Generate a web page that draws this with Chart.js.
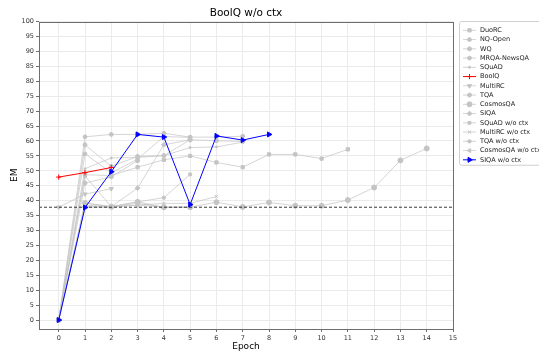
<!DOCTYPE html>
<html>
<head>
<meta charset="utf-8">
<script src="https://cdn.jsdelivr.net/npm/chart.js@4.4.0/dist/chart.umd.min.js"></script>
<style>
  html, body { margin: 0; padding: 0; background: #fff; }
  #wrap { width: 539px; height: 359px; }
</style>
</head>
<body>
<div id="wrap"><canvas id="chart" width="539" height="359"></canvas></div>
<script>
// axis ticks
const xTicks = [0, 1, 2, 3, 4, 5, 6, 7, 8, 9, 10, 11, 12, 13, 14, 15];
const yTicks = [0, 5, 10, 15, 20, 25, 30, 35, 40, 45, 50, 55, 60, 65, 70, 75, 80, 85, 90, 95, 100];
const xMin = -0.75, xMax = 15;
const yMin = -3, yMax = 100;
const baseline = 37.8;

// EM per epoch (index = epoch)
const duoRC = [0, 48.7, 48.4, 51.2, 53.7, 55.0, 52.8, 51.2, 55.5, 55.5, 54.1, 57.2];
const nqOpen = [0, 61.4, 62.2, 62.2, 62.6, 61.3, 61.3, 61.6];
const wq = [0, 58.7, 51.5, 54.8, 55.1, 60.4, 60.1, 59.8];
const mrqaNewsQA = [0, 55.7, 49.3, 53.9, 61.5, 61.2];
const squad = [0, 50.7, 54.3, 54.5, 55.1, 57.8, 58.0, 59.6];
const boolq = [47.9, 49.4, 51.1];
const multiRC = [37.8, 42.2, 44.0];
const tqa = [0, 45.9, 48.0, 53.4];
const cosmosQA = [0, 39.2, 38.0, 39.6, 37.8, 37.8, 39.5, 37.9, 39.4, 38.3, 38.3, 40.2, 44.4, 53.5, 57.5];
const siqa = [0, 38.0, 38.0, 44.2, 58.7, 60.4];
const squadNoCtx = [0, 48.3, 38.0, 39.1, 37.8, 37.8];
const multiRCNoCtx = [0, 38.5, 38.0, 38.5, 39.1, 39.1, 41.4];
const tqaNoCtx = [0, 39.2, 38.0, 39.6, 41.0, 48.8];
const cosmosQANoCtx = [0, 37.8, 37.8, 38.5, 37.8, 37.8];
const siqaNoCtx = [0, 37.7, 49.7, 62.2, 61.3, 38.7, 61.7, 60.3, 62.2];

const GRAY_LINE = "rgba(195,195,195,0.7)";
const GRAY_MARK = "#c4c4c4";
const FONT = "'DejaVu Sans', sans-serif";

function pts(arr) {
    return arr.map((v, i) => ({ x: i, y: v }));
}

function series(label, arr, style, opts) {
    const o = opts || {};
    return {
        label,
        data: pts(arr),
        borderColor: o.color || GRAY_LINE,
        backgroundColor: o.mark || GRAY_MARK,
        pointBackgroundColor: o.mark || GRAY_MARK,
        pointBorderColor: o.mark || GRAY_MARK,
        borderWidth: o.width || 1,
        pointStyle: style,
        pointRadius: o.radius || 2,
        pointRotation: o.rotation || 0,
        pointBorderWidth: o.pbw || 1,
        pointHoverRadius: 0,
        tension: 0,
        order: o.order != null ? o.order : 5,
    };
}

const datasets = [
    series("DuoRC", duoRC, "rect", { radius: 2.3 }),
    series("NQ-Open", nqOpen, "circle", { radius: 1.9 }),
    series("WQ", wq, "circle", { radius: 2 }),
    series("MRQA-NewsQA", mrqaNewsQA, "circle", { radius: 1.9 }),
    series("SQuAD", squad, "circle", { radius: 1 }),
    series("BoolQ", boolq, "cross", { color: "#ff0000", mark: "#ff0000", radius: 2.6, order: 1 }),
    series("MultiRC", multiRC, "triangle", { radius: 2.4, rotation: 180 }),
    series("TQA", tqa, "circle", { radius: 2 }),
    series("CosmosQA", cosmosQA, "circle", { radius: 2.5 }),
    series("SIQA", siqa, "rectRot", { radius: 2.4 }),
    series("SQuAD w/o ctx", squadNoCtx, "rect", { radius: 2 }),
    series("MultiRC w/o ctx", multiRCNoCtx, "crossRot", { radius: 2.3 }),
    series("TQA w/o ctx", tqaNoCtx, "circle", { radius: 1.7 }),
    series("CosmosQA w/o ctx", cosmosQANoCtx, "triangle", { radius: 2.3, rotation: -90 }),
    series("SIQA w/o ctx", siqaNoCtx, "triangle", { color: "#0000ff", mark: "#0000ff", radius: 2.9, rotation: 90, order: 0 }),
];

// dashed reference line
datasets.push({
    label: "_baseline",
    data: [{ x: xMin, y: baseline }, { x: xMax, y: baseline }],
    borderColor: "#222",
    borderWidth: 0.9,
    borderDash: [3, 2],
    pointRadius: 0,
    order: 2,
});

// frame round the axes + legend box on the right
const framePlugin = {
    id: "frame",
    afterDraw(chart) {
        const ctx = chart.ctx;
        const a = chart.chartArea;
        ctx.save();
        ctx.strokeStyle = "#6e6e6e";
        ctx.lineWidth = 1;
        ctx.strokeRect(Math.round(a.left) + 0.5, Math.round(a.top) + 0.5,
            Math.round(a.right - a.left), Math.round(a.bottom - a.top));

        // legend
        const items = chart.data.datasets.filter((d) => d.label[0] !== "_");
        const lx = 459.5, ly = 21.5, rowH = 9.25;
        ctx.fillStyle = "#fff";
        ctx.strokeStyle = "#d0d0d0";
        ctx.lineWidth = 1;
        ctx.beginPath();
        ctx.roundRect(lx, ly, 90, items.length * rowH + 5, 2);
        ctx.fill();
        ctx.stroke();

        ctx.font = "6.5px " + FONT;
        ctx.textBaseline = "middle";
        items.forEach((d, i) => {
            const y = ly + 4.5 + rowH * i + rowH / 2 - 0.3;
            ctx.strokeStyle = d.borderColor;
            ctx.lineWidth = d.borderWidth;
            ctx.setLineDash([]);
            ctx.beginPath();
            ctx.moveTo(463, y);
            ctx.lineTo(476, y);
            ctx.stroke();
            ctx.fillStyle = d.pointBackgroundColor;
            ctx.strokeStyle = d.pointBorderColor;
            Chart.helpers.drawPoint(ctx, {
                pointStyle: d.pointStyle,
                radius: d.pointRadius,
                rotation: d.pointRotation,
                borderWidth: d.pointBorderWidth,
            }, 469.5, y);
            ctx.fillStyle = "#222";
            ctx.fillText(d.label, 480, y);
        });
        ctx.restore();
    },
};

new Chart(document.getElementById("chart"), {
    type: "line",
    data: { datasets },
    options: {
        responsive: false,
        animation: false,
        devicePixelRatio: 1,
        layout: { padding: { left: 0, right: 86, top: 0, bottom: 0 } },
        plugins: {
            legend: { display: false },
            tooltip: { enabled: false },
            title: {
                display: true,
                text: "BoolQ w/o ctx",
                fullSize: false,
                color: "#000",
                font: { family: FONT, size: 10.5, weight: "normal" },
                padding: { top: 7, bottom: 2 },
            },
        },
        scales: {
            x: {
                type: "linear",
                min: xMin,
                max: xMax,
                afterBuildTicks: (axis) => { axis.ticks = xTicks.map((v) => ({ value: v })); },
                afterFit: (axis) => { axis.height = 30; },
                grid: { color: "#ebebeb", tickLength: 3, tickColor: "#6e6e6e" },
                border: { display: false },
                ticks: { color: "#333", font: { family: FONT, size: 6.5 }, padding: 2, maxRotation: 0 },
                title: { display: true, text: "Epoch", color: "#000", font: { family: FONT, size: 9 }, padding: { top: 7, bottom: 7 } },
            },
            y: {
                type: "linear",
                min: yMin,
                max: yMax,
                afterBuildTicks: (axis) => { axis.ticks = yTicks.map((v) => ({ value: v })); },
                afterFit: (axis) => { axis.width = 39; },
                grid: { color: "#ebebeb", tickLength: 3, tickColor: "#6e6e6e" },
                border: { display: false },
                ticks: { color: "#333", font: { family: FONT, size: 6.5 }, padding: 2 },
                title: { display: true, text: "EM", color: "#000", font: { family: FONT, size: 9 }, padding: { top: 9, bottom: 9 } },
            },
        },
    },
    plugins: [framePlugin],
});
</script>
</body>
</html>
